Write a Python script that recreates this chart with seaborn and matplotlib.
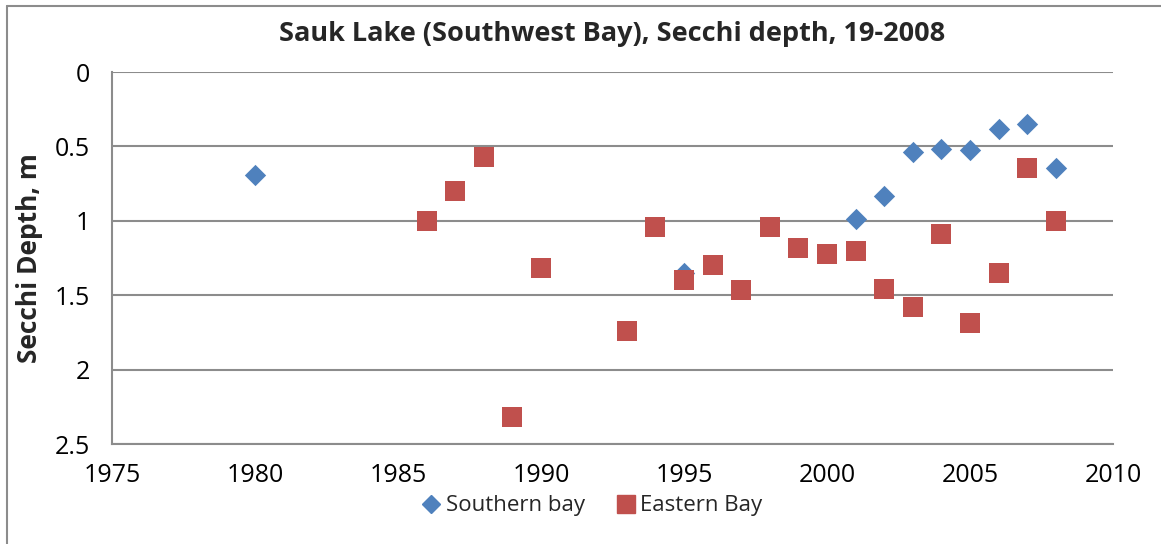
import matplotlib
matplotlib.use("Agg")
import matplotlib.pyplot as plt
from matplotlib.lines import Line2D
import seaborn as sns
import pandas as pd

# ---- data ----
south_years = [1980, 1995, 2001, 2002, 2003, 2004, 2005, 2006, 2007, 2008]
south_depth = [0.69, 1.35, 0.99, 0.83, 0.535, 0.52, 0.525, 0.385, 0.35, 0.645]

east_years = [1986, 1987, 1988, 1989, 1990, 1993, 1994, 1995, 1996, 1997, 1998,
              1999, 2000, 2001, 2002, 2003, 2004, 2005, 2006, 2007, 2008]
east_depth = [1.00, 0.80, 0.57, 2.32, 1.32, 1.74, 1.04, 1.40, 1.30, 1.465, 1.04,
              1.18, 1.22, 1.20, 1.46, 1.58, 1.09, 1.69, 1.35, 0.645, 1.00]

series_names = ["Southern bay", "Eastern Bay"]
x_ticks = [1975, 1980, 1985, 1990, 1995, 2000, 2005, 2010]
y_ticks = [0, 0.5, 1, 1.5, 2, 2.5]
y_tick_labels = ["0", "0.5", "1", "1.5", "2", "2.5"]

south_df = pd.DataFrame({"Year": south_years, "Depth": south_depth})
east_df = pd.DataFrame({"Year": east_years, "Depth": east_depth})

sns.set_theme(style="white")
plt.rcParams["font.family"] = ["Open Sans", "DejaVu Sans"]

colors = {series_names[0]: "#4F81BD", series_names[1]: "#C0504D"}
markers = {series_names[0]: "D", series_names[1]: "s"}

fig = plt.figure(figsize=(11.61, 5.44), dpi=100)
ax = fig.add_axes([112 / 1161, 1 - 444 / 544, (1113 - 112) / 1161, (444 - 72) / 544])

sns.scatterplot(data=south_df, x="Year", y="Depth", color=colors[series_names[0]],
                marker=markers[series_names[0]], s=118, linewidth=0, ax=ax, zorder=3)
sns.scatterplot(data=east_df, x="Year", y="Depth", color=colors[series_names[1]],
                marker=markers[series_names[1]], s=200, linewidth=0, ax=ax, zorder=4)

grid_c = "#8c8c8c"
ax.set_xlim(1975, 2010)
ax.set_ylim(2.5, 0)
ax.set_xticks(x_ticks)
ax.set_yticks(y_ticks)
ax.set_yticklabels(y_tick_labels)
ax.yaxis.grid(True, color=grid_c, linewidth=1.5)
ax.xaxis.grid(False)
ax.set_axisbelow(True)
for side in ["top", "right"]:
    ax.spines[side].set_visible(False)
for side in ["left", "bottom"]:
    ax.spines[side].set_color(grid_c)
    ax.spines[side].set_linewidth(1.5)
ax.tick_params(axis="both", direction="out", length=6, width=1.5, color=grid_c,
               labelsize=18, labelcolor="black")
ax.tick_params(axis="y", pad=10)
ax.tick_params(axis="x", pad=8)

ax.set_xlabel("")
ax.set_ylabel("Secchi Depth, m", fontsize=19, fontweight="bold", labelpad=8)
ax.set_title("Sauk Lake (Southwest Bay), Secchi depth, 19-2008",
             fontsize=19.5, fontweight="bold", pad=22)

handles = [Line2D([], [], linestyle="none", marker=markers[n], color=colors[n],
                  markersize=12.5 if markers[n] == "s" else 9.5, label=n)
           for n in series_names]
fig.legend(handles=handles, loc="center", bbox_to_anchor=(592 / 1161, 1 - 506 / 544),
           ncol=2, frameon=False, fontsize=16, handletextpad=0.2, columnspacing=1.4,
           handlelength=0.9)

# chart border (left and top edges visible)
fig.add_artist(Line2D([7 / 1161, 7 / 1161], [0, 1 - 6 / 544], transform=fig.transFigure,
                      color="#8c8c8c", linewidth=1.5))
fig.add_artist(Line2D([7 / 1161, 1], [1 - 6 / 544, 1 - 6 / 544], transform=fig.transFigure,
                      color="#8c8c8c", linewidth=1.5))

fig.savefig("out.png", dpi=100, facecolor="white")
